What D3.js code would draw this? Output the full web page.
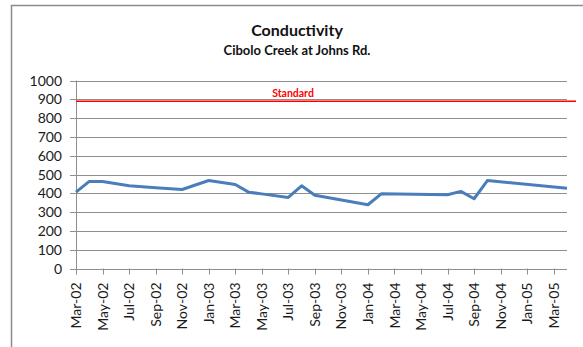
<!DOCTYPE html>
<html>
<head>
<meta charset="utf-8">
<script src="https://cdn.jsdelivr.net/npm/d3@7"></script>
<style>
  body { margin: 0; background: #fff; }
  svg { display: block; font-family: Lato, "Open Sans", sans-serif; }
</style>
</head>
<body>
<svg id="chart"></svg>
<script>
// sample months and conductivity readings
const months = ["2002-03", "2002-04", "2002-05", "2002-07", "2002-09", "2002-11",
  "2003-01", "2003-03", "2003-04", "2003-05", "2003-07", "2003-08", "2003-09",
  "2004-01", "2004-02", "2004-07", "2004-08", "2004-09", "2004-10", "2005-04"];
const conductivity = [406, 463, 463, 440, 430, 420, 468, 447, 406, 397, 378, 440, 390,
  339, 397, 392, 410, 371, 468, 427];
const standardValue = 890;
const yTicks = [0, 100, 200, 300, 400, 500, 600, 700, 800, 900, 1000];

const width = 583;
const height = 347;
const margin = { top: 80.5, right: 16, bottom: 78.5, left: 76 };

const parseMonth = d3.timeParse("%Y-%m");
const fmt = d3.timeFormat("%b-%y");
const start = parseMonth(months[0]);
const end = parseMonth(months[months.length - 1]);

const data = months.map((m, i) => ({ date: parseMonth(m), value: conductivity[i] }));

const svg = d3.select("#chart").attr("width", width).attr("height", height);

// chart border
svg.append("rect")
  .attr("x", 11.5).attr("y", 5.5)
  .attr("width", 620).attr("height", 400)
  .attr("fill", "none").attr("stroke", "#8c8c8c").attr("stroke-width", 1.5);

// Excel date axis: equal spacing per month
const xScale = d3.scaleLinear()
  .domain([0, d3.timeMonth.count(start, end)])
  .range([margin.left, width - margin.right]);
const xPos = (d) => xScale(d3.timeMonth.count(start, d));

const yScale = d3.scaleLinear()
  .domain([0, 1000])
  .range([height - margin.bottom, margin.top]);

// gridlines
svg.append("g")
  .selectAll("line")
  .data(yTicks)
  .enter()
  .append("line")
  .attr("x1", margin.left - 6)
  .attr("x2", width - margin.right)
  .attr("y1", (d) => Math.round(yScale(d)) + 0.5)
  .attr("y2", (d) => Math.round(yScale(d)) + 0.5)
  .attr("stroke", "#8e8e8e")
  .attr("stroke-width", 1);

// y labels
svg.append("g")
  .selectAll("text")
  .data(yTicks)
  .enter()
  .append("text")
  .attr("x", 62)
  .attr("y", (d) => yScale(d))
  .attr("dy", "0.36em")
  .attr("text-anchor", "end")
  .attr("font-size", 14)
  .attr("fill", "#1a1a1a")
  .text((d) => d);

// y axis line
svg.append("line")
  .attr("x1", margin.left + 0.5).attr("x2", margin.left + 0.5)
  .attr("y1", margin.top).attr("y2", height - margin.bottom + 6)
  .attr("stroke", "#8e8e8e");

// x ticks every 2 months, Mar-02 .. Mar-05
const xTickDates = d3.timeMonth.every(2).range(start, end);
svg.append("g")
  .selectAll("line")
  .data(xTickDates)
  .enter()
  .append("line")
  .attr("x1", (d) => Math.round(xPos(d)) + 0.5)
  .attr("x2", (d) => Math.round(xPos(d)) + 0.5)
  .attr("y1", height - margin.bottom)
  .attr("y2", height - margin.bottom + 6)
  .attr("stroke", "#8e8e8e");

svg.append("g")
  .selectAll("text")
  .data(xTickDates)
  .enter()
  .append("text")
  .attr("transform", (d) => `translate(${xPos(d)},${height - margin.bottom + 14}) rotate(-90)`)
  .attr("dy", "0.36em")
  .attr("text-anchor", "end")
  .attr("font-size", 14)
  .attr("fill", "#1a1a1a")
  .text((d) => fmt(d));

// standard line
svg.append("line")
  .attr("x1", margin.left)
  .attr("x2", 576)
  .attr("y1", yScale(standardValue))
  .attr("y2", yScale(standardValue))
  .attr("stroke", "#ff0000")
  .attr("stroke-width", 1.6);

svg.append("text")
  .attr("x", 293)
  .attr("y", 96.5)
  .attr("text-anchor", "middle")
  .attr("font-size", 10.5)
  .attr("font-weight", "bold")
  .attr("fill", "#ff0000")
  .text("Standard");

// data line
const line = d3.line()
  .x((d) => xPos(d.date))
  .y((d) => yScale(d.value));

svg.append("path")
  .datum(data)
  .attr("d", line)
  .attr("fill", "none")
  .attr("stroke", "#4a7ebb")
  .attr("stroke-width", 3)
  .attr("stroke-linejoin", "round");

// titles
svg.append("text")
  .attr("x", 297)
  .attr("y", 35.5)
  .attr("text-anchor", "middle")
  .attr("font-size", 16)
  .attr("font-weight", "bold")
  .attr("fill", "#111")
  .text("Conductivity");

svg.append("text")
  .attr("x", 297)
  .attr("y", 55)
  .attr("text-anchor", "middle")
  .attr("font-size", 13)
  .attr("font-weight", "bold")
  .attr("fill", "#111")
  .text("Cibolo Creek at Johns Rd.");
</script>
</body>
</html>
